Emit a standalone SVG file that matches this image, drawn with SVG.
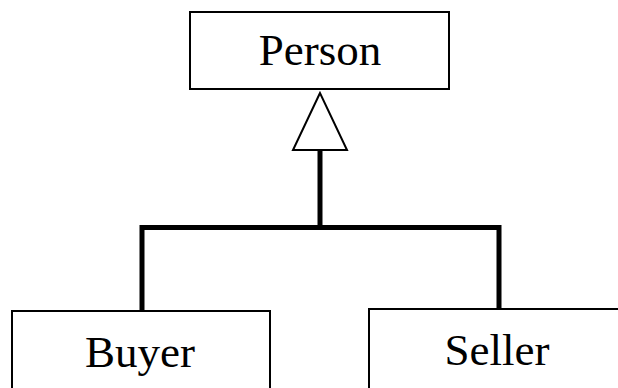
<svg xmlns="http://www.w3.org/2000/svg" width="618" height="388" viewBox="0 0 618 388">
  <style>
    .box { fill: #ffffff; stroke: #000000; stroke-width: 2; }
    .label { font-family: "Liberation Serif", "Times New Roman", serif; font-size: 45px; fill: #000000; text-anchor: middle; }
    .wire { fill: none; stroke: #000000; stroke-width: 5; stroke-linejoin: miter; }
    .head { fill: #ffffff; stroke: #000000; stroke-width: 2; }
  </style>

  <g id="connectors">
    <!-- generalization tree: Buyer and Seller to Person -->
    <path class="wire" d="M142 311 V227.5 H499 V309"/>
    <path class="wire" d="M320 227.5 V150"/>
    <polygon class="head" points="320,93 293,150 347,150"/>
  </g>

  <g id="person">
    <rect class="box" x="190" y="12" width="259" height="77"/>
    <text class="label" x="320" y="65">Person</text>
  </g>

  <g id="buyer">
    <rect class="box" x="12" y="311" width="258" height="90"/>
    <text class="label" x="140" y="367">Buyer</text>
  </g>

  <g id="seller">
    <rect class="box" x="369" y="309" width="270" height="90"/>
    <text class="label" x="497" y="365">Seller</text>
  </g>
</svg>
